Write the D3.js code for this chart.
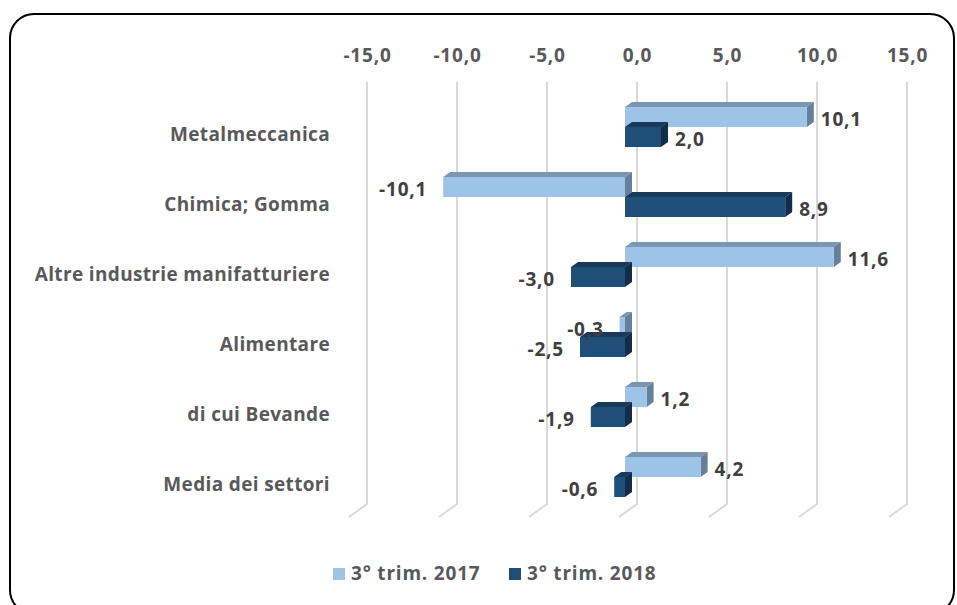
<!DOCTYPE html>
<html lang="it">
  <head>
    <meta charset="utf-8">
    <title></title>
    <style>
      body { margin: 0; background: #fff; }
      text { font-family: "Open Sans", Lato, sans-serif; font-weight: bold; letter-spacing: 0.8px; }
      .cat { letter-spacing: 0.35px; }
    </style>
  </head>
  <body>
    <svg class="chart"></svg>

    <script src="https://cdn.jsdelivr.net/npm/d3@7/dist/d3.min.js"></script>
    <script type="text/javascript">
    var categories = ["Metalmeccanica", "Chimica; Gomma", "Altre industrie manifatturiere",
                      "Alimentare", "di cui Bevande", "Media dei settori"];
    var seriesNames = ["3° trim. 2017", "3° trim. 2018"];
    var values2017 = [10.1, -10.1, 11.6, -0.3, 1.2, 4.2];
    var values2018 = [2.0, 8.9, -3.0, -2.5, -1.9, -0.6];
    var tickValues = [-15, -10, -5, 0, 5, 10, 15];

    var width = 957, height = 605;
    // front plane of the bars is shifted against the back wall
    var wallDx = 12;
    var depth = {dx: 7, dy: -5};

    var colors = [
      {front: "#9DC3E6", top: "#7B96B2", side: "#667F9B"},
      {front: "#1F4E79", top: "#19395A", side: "#132D48"}
    ];

    var fmt = function(v) { return d3.format(".1f")(v).replace("\u2212", "-").replace(".", ","); };

    var svg = d3.select(".chart")
        .attr("width", width)
        .attr("height", height);

    svg.append("rect")
      .attr("x", 10).attr("y", 14)
      .attr("width", 944).attr("height", 600)
      .attr("rx", 24)
      .attr("fill", "none")
      .attr("stroke", "#000")
      .attr("stroke-width", 2);

    var x = d3.scaleLinear().domain([-15, 15]).range([355, 895]);
    var y0 = d3.scaleBand().domain(categories).range([92, 512]);
    var y1 = d3.scaleBand().domain([0, 1]).range([15, 55]);

    // gridlines on the back wall with floor foot
    var grid = svg.append("g").attr("class", "grid");
    grid.selectAll("path")
      .data(tickValues)
      .enter().append("path")
        .attr("d", function(d) {
          var gx = x(d) + wallDx;
          return "M" + gx + ",82V504L" + (gx - 18) + ",517";
        })
        .attr("fill", "none")
        .attr("stroke", "#D9D9D9")
        .attr("stroke-width", 2);

    var xBack = d3.scaleLinear().domain(x.domain()).range(x.range().map(function(r) { return r + wallDx; }));
    var axisTop = d3.axisTop(xBack)
        .tickValues(tickValues)
        .tickFormat(fmt)
        .tickSize(0)
        .tickPadding(0);

    var ax = svg.append("g")
        .attr("transform", "translate(0,62)")
        .call(axisTop);
    ax.select(".domain").remove();
    ax.selectAll("text")
      .attr("fill", "#595959")
      .style("font-size", "19px")
      .style("font-family", "'Open Sans', sans-serif")
      .style("font-weight", "bold");

    // category labels
    svg.append("g").selectAll("text")
      .data(categories)
      .enter().append("text")
        .attr("class", "cat")
        .attr("x", 330)
        .attr("y", function(d) { return y0(d) + y0.bandwidth() / 2 + 14; })
        .attr("text-anchor", "end")
        .attr("fill", "#595959")
        .style("font-size", "19px")
        .text(function(d) { return d; });

    var data = [];
    categories.forEach(function(c, i) {
      data.push({cat: c, s: 0, v: values2017[i]});
      data.push({cat: c, s: 1, v: values2018[i]});
    });

    var bars = svg.append("g").selectAll("g.bar")
      .data(data)
      .enter().append("g")
        .attr("class", "bar");

    function geom(d) {
      var x0 = x(Math.min(0, d.v)), x1 = x(Math.max(0, d.v));
      var top = y0(d.cat) + y1(d.s), h = y1.bandwidth();
      return {x0: x0, x1: x1, top: top, h: h};
    }

    bars.append("path")
      .attr("d", function(d) {
        var g = geom(d);
        return "M" + g.x0 + "," + g.top + "L" + (g.x0 + depth.dx) + "," + (g.top + depth.dy) +
          "L" + (g.x1 + depth.dx) + "," + (g.top + depth.dy) + "L" + g.x1 + "," + g.top + "Z";
      })
      .attr("fill", function(d) { return colors[d.s].top; });

    bars.append("path")
      .attr("d", function(d) {
        var g = geom(d);
        return "M" + g.x1 + "," + g.top + "L" + (g.x1 + depth.dx) + "," + (g.top + depth.dy) +
          "L" + (g.x1 + depth.dx) + "," + (g.top + g.h + depth.dy) + "L" + g.x1 + "," + (g.top + g.h) + "Z";
      })
      .attr("fill", function(d) { return colors[d.s].side; });

    bars.append("rect")
      .attr("x", function(d) { return geom(d).x0; })
      .attr("y", function(d) { return geom(d).top; })
      .attr("width", function(d) { var g = geom(d); return g.x1 - g.x0; })
      .attr("height", y1.bandwidth())
      .attr("fill", function(d) { return colors[d.s].front; });

    // value labels
    svg.append("g").selectAll("text")
      .data(data)
      .enter().append("text")
        .attr("x", function(d) { return d.v >= 0 ? x(d.v) + 14 : x(d.v) - 16; })
        .attr("y", function(d) { return y0(d.cat) + y1(d.s) + y1.bandwidth() / 2 + 9; })
        .attr("text-anchor", function(d) { return d.v >= 0 ? "start" : "end"; })
        .attr("fill", "#404040")
        .style("font-size", "19px")
        .text(function(d) { return fmt(d.v); });

    // legend
    var legend = svg.append("g").selectAll("g")
      .data(seriesNames)
      .enter().append("g")
        .attr("transform", function(d, i) { return "translate(" + (333 + i * 176) + ",568)"; });
    legend.append("rect")
      .attr("width", 12).attr("height", 12)
      .attr("fill", function(d, i) { return colors[i].front; });
    legend.append("text")
      .attr("x", 18).attr("y", 12)
      .attr("fill", "#595959")
      .style("font-size", "19px")
      .text(function(d) { return d; });
    </script>
  </body>
</html>
